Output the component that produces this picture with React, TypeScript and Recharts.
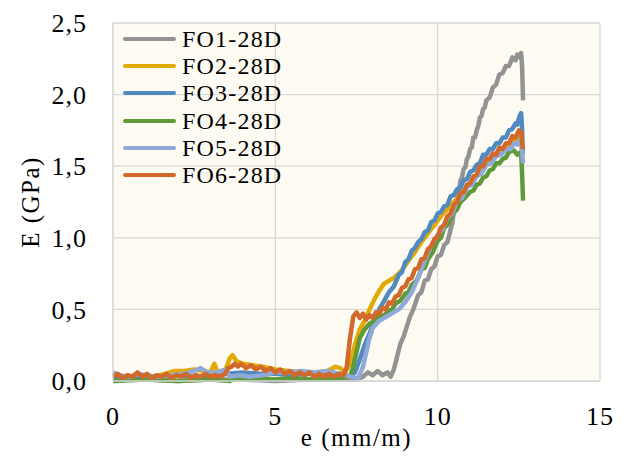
import { LineChart, Line, XAxis, YAxis, CartesianGrid, Legend } from 'recharts'

// e (mm/m), E (GPa) pairs
const FO1: [number, number][] = [
  [0, 0.01], [1, 0.01], [2, 0.0], [3, 0.01], [4, 0.01], [5, 0.0], [6, 0.01], [7, 0.01], [7.5, 0.01],
  [7.7, 0.03], [7.85, 0.06], [8.0, 0.04], [8.15, 0.07], [8.3, 0.04], [8.45, 0.06], [8.55, 0.03],
  [8.65, 0.08], [8.75, 0.17], [8.85, 0.26], [8.95, 0.31], [9.05, 0.38], [9.15, 0.45], [9.25, 0.5],
  [9.4, 0.6], [9.5, 0.62], [9.6, 0.7], [9.7, 0.71], [9.8, 0.78], [9.9, 0.8], [10.0, 0.87], [10.1, 0.88],
  [10.2, 0.95], [10.3, 0.97], [10.4, 1.06], [10.45, 1.1], [10.5, 1.18], [10.55, 1.2], [10.6, 1.29],
  [10.65, 1.31], [10.7, 1.4], [10.75, 1.42], [10.8, 1.48], [10.85, 1.49], [10.9, 1.55], [10.95, 1.57],
  [11.0, 1.62], [11.05, 1.63], [11.1, 1.7], [11.15, 1.7], [11.2, 1.75], [11.25, 1.78], [11.3, 1.84],
  [11.35, 1.85], [11.4, 1.9], [11.45, 1.91], [11.5, 1.96], [11.6, 1.98], [11.7, 2.05], [11.8, 2.07],
  [11.9, 2.14], [12.0, 2.15], [12.1, 2.2], [12.2, 2.2], [12.3, 2.26], [12.4, 2.24], [12.45, 2.28],
  [12.52, 2.26], [12.57, 2.29], [12.6, 2.2], [12.63, 1.96],
]
const FO2: [number, number][] = [
  [0, 0.03], [0.4, 0.02], [0.8, 0.03], [1.2, 0.03], [1.6, 0.05], [1.9, 0.07], [2.2, 0.07], [2.5, 0.08],
  [2.8, 0.07], [3.0, 0.06], [3.12, 0.12], [3.22, 0.06], [3.45, 0.07], [3.6, 0.16], [3.68, 0.18],
  [3.8, 0.14], [4.0, 0.12], [4.3, 0.11], [4.6, 0.1], [5.0, 0.08], [5.4, 0.07], [5.8, 0.06], [6.2, 0.06],
  [6.6, 0.07], [6.85, 0.1], [7.0, 0.09], [7.15, 0.06], [7.3, 0.12], [7.45, 0.25], [7.6, 0.36],
  [7.75, 0.42], [7.9, 0.5], [8.05, 0.57], [8.2, 0.63], [8.35, 0.68], [8.5, 0.7], [8.65, 0.72],
  [8.8, 0.75], [8.95, 0.79], [9.1, 0.84], [9.3, 0.9], [9.5, 0.97], [9.7, 1.03], [9.9, 1.09],
  [10.1, 1.15], [10.3, 1.2], [10.5, 1.25], [10.7, 1.3], [10.9, 1.36], [11.1, 1.41], [11.3, 1.46],
  [11.5, 1.51], [11.7, 1.55], [11.9, 1.59], [12.1, 1.63], [12.3, 1.67], [12.45, 1.69], [12.57, 1.71],
  [12.62, 1.6],
]
const FO3: [number, number][] = [
  [0, 0.03], [0.5, 0.02], [1, 0.03], [1.5, 0.02], [2, 0.04], [2.5, 0.03], [3, 0.04], [3.5, 0.05],
  [4, 0.06], [4.5, 0.05], [5, 0.05], [5.5, 0.04], [6, 0.05], [6.5, 0.04], [7, 0.05], [7.3, 0.03],
  [7.45, 0.06], [7.6, 0.15], [7.75, 0.25], [7.9, 0.33], [8.05, 0.42], [8.2, 0.5], [8.35, 0.56],
  [8.5, 0.62], [8.65, 0.66], [8.8, 0.74], [8.9, 0.76], [9.0, 0.83], [9.1, 0.85], [9.2, 0.91],
  [9.3, 0.93], [9.4, 0.97], [9.5, 0.99], [9.6, 1.04], [9.7, 1.05], [9.8, 1.11], [9.9, 1.12],
  [10.0, 1.17], [10.1, 1.18], [10.2, 1.22], [10.3, 1.23], [10.4, 1.29], [10.5, 1.3], [10.6, 1.34],
  [10.7, 1.35], [10.8, 1.4], [10.9, 1.41], [11.0, 1.46], [11.1, 1.47], [11.2, 1.51], [11.3, 1.52],
  [11.4, 1.58], [11.5, 1.58], [11.6, 1.62], [11.7, 1.62], [11.8, 1.66], [11.9, 1.66], [12.0, 1.7],
  [12.1, 1.7], [12.2, 1.75], [12.3, 1.76], [12.4, 1.8], [12.45, 1.79], [12.52, 1.85], [12.57, 1.87],
  [12.6, 1.76], [12.62, 1.58],
]
const FO4: [number, number][] = [
  [0, 0.0], [1, 0.01], [2, 0.0], [3, 0.01], [3.6, 0.0], [3.8, 0.02], [4.2, 0.01], [4.6, 0.02],
  [5.0, 0.01], [5.5, 0.02], [6.0, 0.01], [6.5, 0.01], [7.0, 0.02], [7.3, 0.03], [7.4, 0.1], [7.5, 0.2],
  [7.6, 0.3], [7.75, 0.36], [7.9, 0.4], [8.05, 0.42], [8.2, 0.45], [8.35, 0.46], [8.5, 0.49],
  [8.6, 0.5], [8.7, 0.54], [8.85, 0.56], [9.0, 0.61], [9.1, 0.62], [9.2, 0.67], [9.35, 0.7],
  [9.5, 0.78], [9.6, 0.79], [9.7, 0.85], [9.85, 0.9], [10.0, 0.98], [10.1, 1.0], [10.2, 1.07],
  [10.3, 1.09], [10.48, 1.17], [10.6, 1.2], [10.7, 1.25], [10.8, 1.27], [11.0, 1.32], [11.1, 1.33],
  [11.2, 1.37], [11.3, 1.38], [11.4, 1.42], [11.5, 1.43], [11.6, 1.47], [11.7, 1.48], [11.8, 1.52],
  [11.9, 1.52], [12.0, 1.55], [12.1, 1.56], [12.2, 1.6], [12.35, 1.61], [12.45, 1.58], [12.57, 1.6],
  [12.6, 1.45], [12.63, 1.26],
]
const FO5: [number, number][] = [
  [0, 0.06], [0.2, 0.04], [0.5, 0.03], [0.8, 0.05], [1.0, 0.04], [1.4, 0.03], [1.8, 0.04], [2.2, 0.05],
  [2.5, 0.07], [2.7, 0.09], [2.9, 0.06], [3.2, 0.06], [3.45, 0.08], [3.6, 0.03], [3.9, 0.04], [4.2, 0.03],
  [4.6, 0.04], [5.0, 0.06], [5.4, 0.06], [5.8, 0.07], [6.2, 0.06], [6.6, 0.07], [7.0, 0.05], [7.3, 0.03],
  [7.55, 0.02], [7.7, 0.1], [7.8, 0.2], [7.9, 0.3], [8.0, 0.37], [8.2, 0.42], [8.5, 0.46], [8.8, 0.5],
  [9.0, 0.55], [9.2, 0.62], [9.4, 0.72], [9.6, 0.84], [9.76, 0.93], [10.0, 1.02], [10.15, 1.06],
  [10.3, 1.14], [10.45, 1.17], [10.6, 1.26], [10.75, 1.28], [10.9, 1.35], [11.05, 1.37], [11.2, 1.43],
  [11.35, 1.45], [11.5, 1.51], [11.65, 1.52], [11.8, 1.57], [11.95, 1.58], [12.1, 1.62], [12.25, 1.62],
  [12.35, 1.66], [12.45, 1.65], [12.55, 1.69], [12.6, 1.6], [12.63, 1.52],
]
const FO6: [number, number][] = [
  [0, 0.03], [0.15, 0.05], [0.3, 0.02], [0.45, 0.04], [0.6, 0.03], [0.75, 0.06], [0.9, 0.03],
  [1.05, 0.05], [1.2, 0.02], [1.35, 0.04], [1.5, 0.03], [1.65, 0.05], [1.8, 0.02], [1.95, 0.04],
  [2.1, 0.03], [2.25, 0.05], [2.4, 0.02], [2.55, 0.04], [2.7, 0.03], [2.85, 0.05], [3.0, 0.03],
  [3.15, 0.04], [3.3, 0.03], [3.45, 0.05], [3.55, 0.09], [3.65, 0.1], [3.75, 0.12], [3.85, 0.1],
  [3.95, 0.12], [4.1, 0.09], [4.25, 0.11], [4.4, 0.08], [4.55, 0.1], [4.7, 0.07], [4.85, 0.09],
  [5.0, 0.06], [5.15, 0.08], [5.3, 0.05], [5.45, 0.07], [5.6, 0.04], [5.75, 0.06], [5.9, 0.04],
  [6.05, 0.06], [6.2, 0.03], [6.35, 0.05], [6.5, 0.03], [6.65, 0.05], [6.8, 0.03], [6.95, 0.05],
  [7.1, 0.04], [7.2, 0.1], [7.3, 0.3], [7.4, 0.45], [7.5, 0.48], [7.6, 0.44], [7.7, 0.47], [7.8, 0.43],
  [7.9, 0.46], [8.0, 0.44], [8.1, 0.48], [8.2, 0.47], [8.3, 0.51], [8.4, 0.5], [8.5, 0.55], [8.6, 0.54],
  [8.7, 0.59], [8.8, 0.6], [8.9, 0.65], [9.0, 0.66], [9.1, 0.71], [9.2, 0.72], [9.3, 0.78], [9.4, 0.79],
  [9.5, 0.85], [9.6, 0.86], [9.7, 0.92], [9.8, 0.94], [9.9, 0.99], [10.0, 1.01], [10.1, 1.07],
  [10.2, 1.09], [10.3, 1.15], [10.4, 1.17], [10.5, 1.23], [10.6, 1.25], [10.7, 1.31], [10.8, 1.32],
  [10.9, 1.37], [11.0, 1.38], [11.1, 1.43], [11.2, 1.44], [11.3, 1.5], [11.4, 1.5], [11.5, 1.55],
  [11.6, 1.55], [11.7, 1.59], [11.8, 1.58], [11.9, 1.63], [12.0, 1.62], [12.1, 1.66], [12.2, 1.66],
  [12.3, 1.71], [12.4, 1.7], [12.5, 1.75], [12.58, 1.73], [12.62, 1.62],
]

const X_TICKS = [0, 5, 10, 15]
const Y_TICKS = [0, 0.5, 1, 1.5, 2, 2.5]

const SERIES = [
  { name: 'FO1-28D', pts: FO1, color: '#939393' },
  { name: 'FO2-28D', pts: FO2, color: '#e2aa05' },
  { name: 'FO3-28D', pts: FO3, color: '#4f8ac1' },
  { name: 'FO4-28D', pts: FO4, color: '#5e9a3a' },
  { name: 'FO5-28D', pts: FO5, color: '#8fa9d8' },
  { name: 'FO6-28D', pts: FO6, color: '#d2692a' },
]

const FONT = '"Liberation Serif", "Times New Roman", serif'

const renderLegend = (props: any) => (
  <div style={{ fontFamily: FONT }}>
    {props.payload.map((p: any) => (
      <div key={p.value} style={{ display: 'flex', alignItems: 'center', height: 27.3 }}>
        <span style={{ width: 53, height: 4, background: p.color, borderRadius: 2 }} />
        <span style={{ marginLeft: 6, fontSize: 24, letterSpacing: 1.2, color: '#000', lineHeight: 1 }}>{p.value}</span>
      </div>
    ))}
  </div>
)

export default function App() {
  return (
    <div style={{ position: 'absolute', left: 0, top: 0, width: 633, height: 456, background: '#fff' }}>
      <LineChart width={633} height={456} margin={{ top: 23, right: 33, bottom: 0, left: 0 }}>
        <CartesianGrid stroke="#d9d9d9" strokeWidth={1.3} fill="#fefbf3" />
        <XAxis
          type="number" dataKey="x" domain={[0, 15]} ticks={X_TICKS} height={75}
          axisLine={{ stroke: '#d9d9d9', strokeWidth: 1.3 }} tickLine={false} tickMargin={20}
          tick={{ fill: '#000', fontSize: 26, fontFamily: FONT, letterSpacing: 1 }}
          label={{ value: 'e (mm/m)', position: 'insideBottom', offset: 10, fill: '#000', fontSize: 25, fontFamily: FONT, letterSpacing: 1.5 }}
        />
        <YAxis
          type="number" dataKey="y" domain={[0, 2.5]} ticks={Y_TICKS} width={113}
          axisLine={{ stroke: '#d9d9d9', strokeWidth: 1.3 }} tickLine={false} tickMargin={20}
          tickFormatter={(v: number) => v.toFixed(1).replace('.', ',')}
          tick={{ fill: '#000', fontSize: 26, fontFamily: FONT, letterSpacing: 1 }}
          label={{ value: 'E (GPa)', angle: -90, position: 'insideLeft', offset: 30, fill: '#000', fontSize: 25, fontFamily: FONT, letterSpacing: 1.5, style: { textAnchor: 'middle' } }}
        />
        <Legend
          layout="vertical" align="center" verticalAlign="middle" content={renderLegend}
          wrapperStyle={{ left: 123, top: 25, width: 'auto' }}
        />
        {SERIES.map(s => (
          <Line
            key={s.name} name={s.name} data={s.pts.map(([x, y]) => ({ x, y }))} dataKey="y"
            stroke={s.color} strokeWidth={4.5} strokeLinejoin="round" dot={false}
            isAnimationActive={false} type="linear"
          />
        ))}
      </LineChart>
    </div>
  )
}
